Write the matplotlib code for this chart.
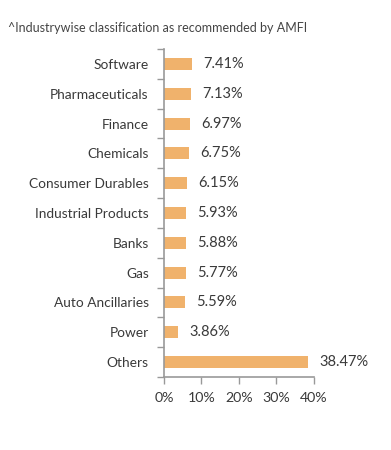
import matplotlib
matplotlib.use('Agg')
import matplotlib.pyplot as plt

industries = ['Software', 'Pharmaceuticals', 'Finance', 'Chemicals', 'Consumer Durables',
              'Industrial Products', 'Banks', 'Gas', 'Auto Ancillaries', 'Power', 'Others']
weights = [7.41, 7.13, 6.97, 6.75, 6.15, 5.93, 5.88, 5.77, 5.59, 3.86, 38.47]
xticks = [0, 10, 20, 30, 40]

plt.rcParams['font.family'] = ['Lato', 'DejaVu Sans']

fig = plt.figure(figsize=(3.91, 4.5), dpi=100)
ax = fig.add_axes([0.4194, 0.1622, 0.3836, 0.7289])

pos = list(range(len(industries)))
ax.barh(pos, weights, height=0.4, color='#F0B26C')
for p, w in zip(pos, weights):
    ax.annotate(f'{w:.2f}%', (w, p), xytext=(8, 0), textcoords='offset points',
                va='center', ha='left', fontsize=10.5, color='#3a3a3a')

ax.set_ylim(10.5, -0.5)
ax.set_xlim(0, 40)
ax.set_yticks(pos)
ax.set_yticklabels(industries, fontsize=9.9, color='#3a3a3a')
ax.set_yticks([p + 0.5 for p in [-1] + pos], minor=True)
ax.tick_params(axis='y', which='major', length=0, pad=11)
ax.tick_params(axis='y', which='minor', length=5, color='#999999', width=1)
ax.set_xticks(xticks)
ax.set_xticklabels([f'{t}%' for t in xticks], fontsize=10.2, color='#3a3a3a')
ax.tick_params(axis='x', length=5, color='#999999', width=1, pad=6)

for s in ['top', 'right']:
    ax.spines[s].set_visible(False)
for s in ['left', 'bottom']:
    ax.spines[s].set_color('#999999')
    ax.spines[s].set_linewidth(1.2)

fig.text(0.02, 0.937, '^Industrywise classification as recommended by AMFI',
         fontsize=9, color='#444444', va='center', ha='left')

fig.savefig('out.png', dpi=100)
